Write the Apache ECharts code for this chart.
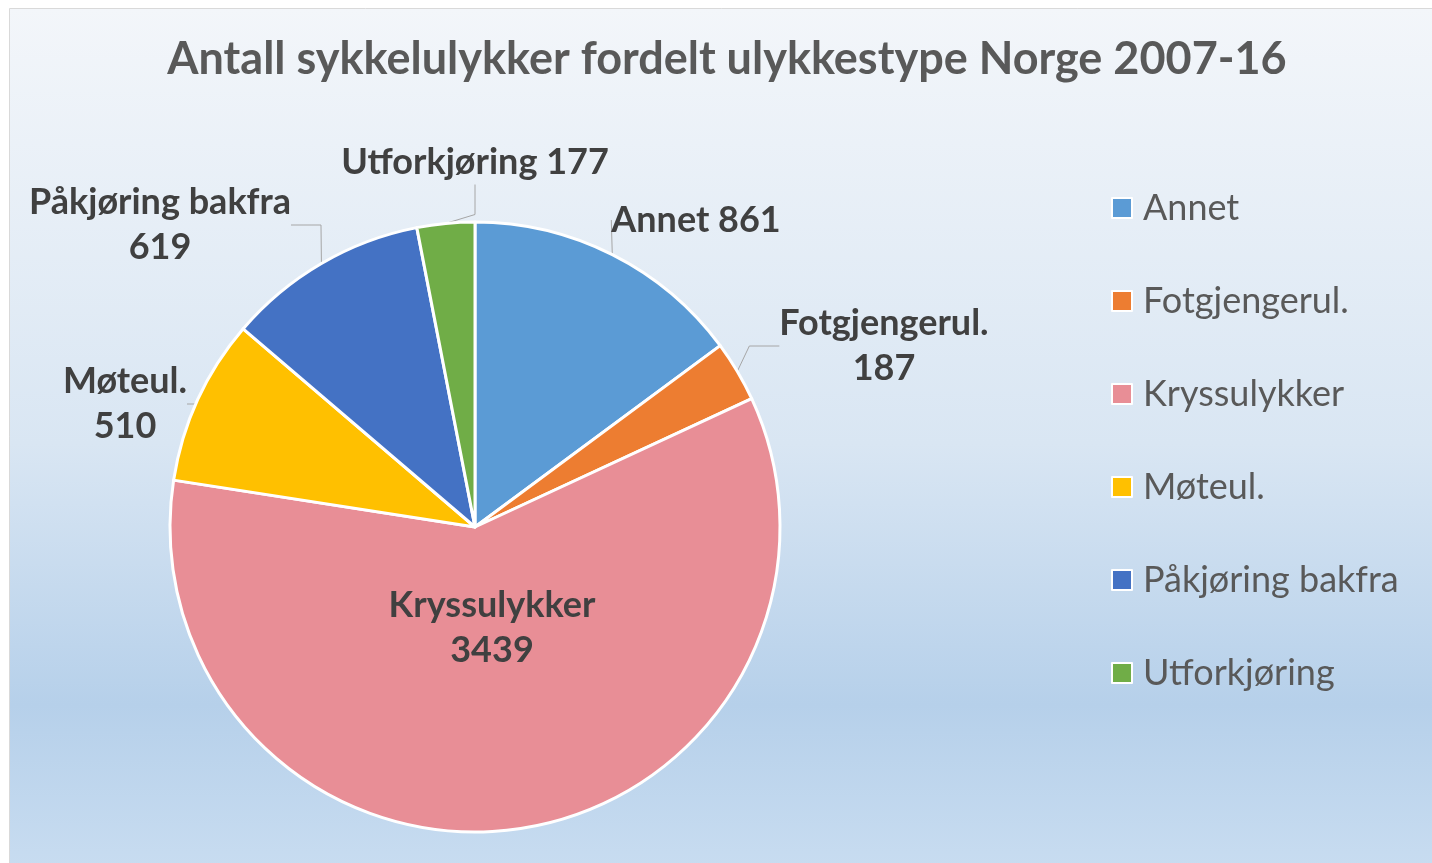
<!DOCTYPE html>
<html>
<head>
<meta charset="utf-8">
<script src="https://cdn.jsdelivr.net/npm/echarts@6/dist/echarts.min.js"></script>
<style>
  html, body { margin: 0; padding: 0; background: #fff; }
  #chart { width: 1432px; height: 863px; }
</style>
</head>
<body>
<div id="chart"></div>
<script>
    // data
    var categories = ['Annet', 'Fotgjengerul.', 'Kryssulykker', 'Møteul.', 'Påkjøring bakfra', 'Utforkjøring'];
    var counts = [861, 187, 3439, 510, 619, 177];
    var colors = ['#5b9bd5', '#ed7d31', '#e88e96', '#ffc000', '#4472c4', '#70ad47'];
    // label text: one line or two lines, like the original
    var twoLine = [false, true, true, true, true, false];
    // where each label sits (centre of the text block)
    var labelSpots = [[696, 220], [884, 346], [492, 628], [125, 404], [160, 225], [475, 162]];

    var myChart = echarts.init(document.getElementById('chart'));

    var pieData = categories.map(function (name, i) {
        return {
            name: name,
            value: counts[i],
            label: { position: i === 2 ? 'inside' : 'outside' },
            labelLine: { show: i !== 2 }
        };
    });

    var option = {
        color: colors,
        graphic: [{
            type: 'rect',
            z: -10,
            shape: { x: 9.5, y: 8.5, width: 1440, height: 870 },
            style: {
                fill: new echarts.graphic.LinearGradient(0, 0, 0, 1, [
                    { offset: 0, color: '#f3f6fa' },
                    { offset: 0.5, color: '#d9e6f3' },
                    { offset: 0.8, color: '#b6d0ea' },
                    { offset: 1, color: '#c9ddf1' }
                ]),
                stroke: '#d9d9d9',
                lineWidth: 1
            }
        }],
        title: {
            text: 'Antall sykkelulykker fordelt ulykkestype Norge 2007-16',
            left: 727,
            textAlign: 'center',
            top: 37,
            padding: 0,
            textStyle: {
                fontFamily: 'Lato',
                fontWeight: 'bold',
                fontSize: 45,
                color: '#595959'
            }
        },
        legend: {
            orient: 'vertical',
            left: 1111,
            top: 190,
            padding: 0,
            itemWidth: 20,
            itemHeight: 20,
            itemGap: 57,
            icon: 'rect',
            itemStyle: { borderColor: '#fff', borderWidth: 2 },
            textStyle: {
                fontFamily: 'Lato',
                fontSize: 36,
                lineHeight: 36,
                color: '#595959',
                padding: [0, 0, 0, 6]
            },
            data: categories
        },
        series: [
            {
                name: 'Ulykkestype',
                type: 'pie',
                center: [475, 527],
                radius: 305,
                startAngle: 90,
                clockwise: true,
                avoidLabelOverlap: false,
                itemStyle: { borderColor: '#fff', borderWidth: 3 },
                label: {
                    formatter: function (p) {
                        return p.name + (twoLine[p.dataIndex] ? '\n' : ' ') + p.value;
                    },
                    fontFamily: 'Lato',
                    fontWeight: 'bold',
                    fontSize: 36,
                    lineHeight: 45,
                    color: '#404040',
                    align: 'center'
                },
                labelLine: {
                    lineStyle: { color: '#a6a6a6', width: 1 }
                },
                labelLayout: function (params) {
                    var s = labelSpots[params.dataIndex];
                    return {
                        x: s[0],
                        y: s[1],
                        align: 'center',
                        verticalAlign: 'middle'
                    };
                },
                data: pieData
            }
        ]
    };

    myChart.setOption(option);
</script>
</body>
</html>
